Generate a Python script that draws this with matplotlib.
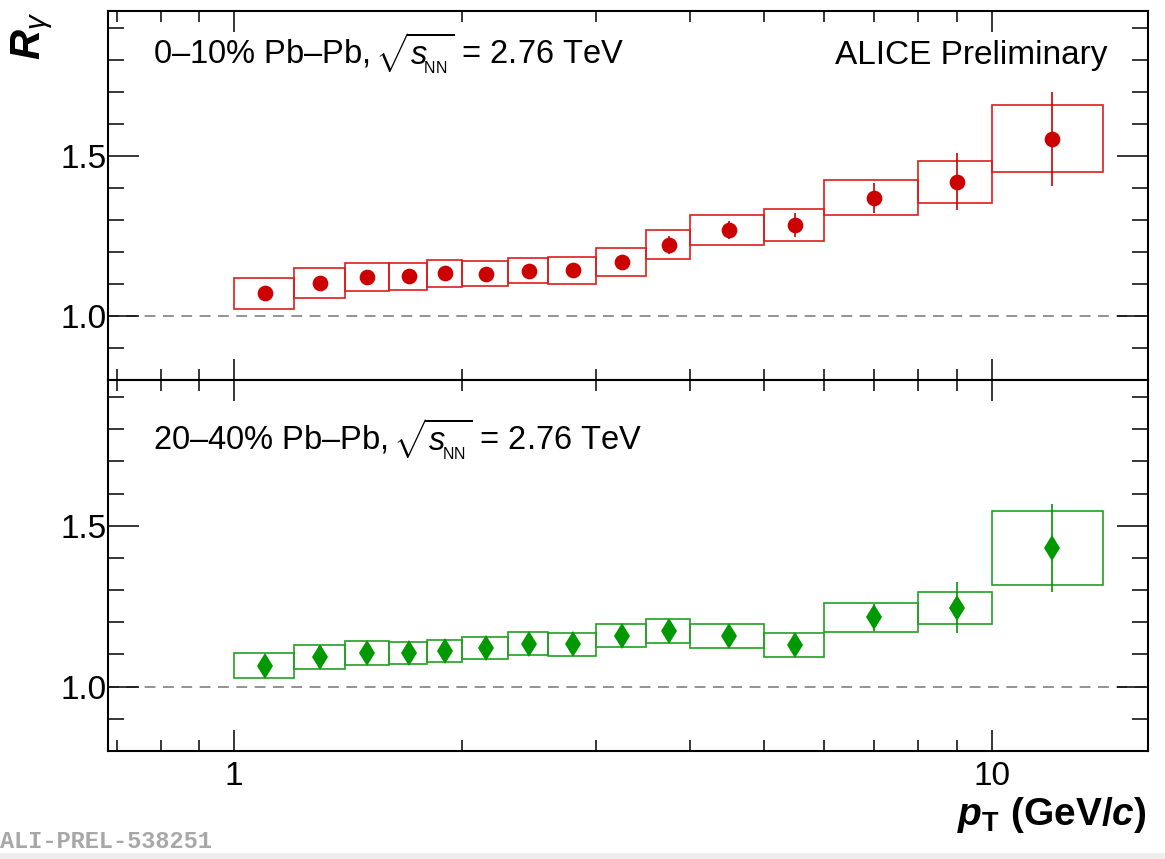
import numpy as np
import matplotlib
matplotlib.use('Agg')
import matplotlib.pyplot as plt
from matplotlib.patches import Rectangle
from matplotlib.ticker import MultipleLocator, FixedLocator, FuncFormatter, NullFormatter

plt.rcParams['font.family'] = ['Liberation Sans', 'DejaVu Sans']
plt.rcParams['mathtext.fontset'] = 'custom'
plt.rcParams['mathtext.rm'] = 'Liberation Sans'
plt.rcParams['mathtext.it'] = 'Liberation Sans:italic'
plt.rcParams['mathtext.bf'] = 'Liberation Sans:bold'
plt.rcParams['mathtext.bfit'] = 'Liberation Sans:bold:italic'

# pT bins (GeV/c)
bin_edges = [1.0, 1.2, 1.4, 1.6, 1.8, 2.0, 2.3, 2.6, 3.0, 3.5, 4.0, 5.0, 6.0, 8.0, 10.0, 14.0]

# 0-10% central
r_010 = [1.071, 1.104, 1.121, 1.1235, 1.133, 1.1325, 1.142, 1.1425, 1.1675, 1.223, 1.268, 1.284, 1.370, 1.420, 1.5535]
stat_010 = [0.010, 0.010, 0.010, 0.010, 0.010, 0.011, 0.012, 0.012, 0.015, 0.028, 0.028, 0.038, 0.047, 0.088, 0.146]
sys_010 = [0.048, 0.047, 0.044, 0.0425, 0.042, 0.040, 0.040, 0.0415, 0.0435, 0.045, 0.047, 0.050, 0.055, 0.0655, 0.1045]

# 20-40% semi-central
r_2040 = [1.065, 1.092, 1.105, 1.104, 1.111, 1.120, 1.134, 1.131, 1.158, 1.172, 1.1565, 1.1305, 1.215, 1.2453, 1.431]
stat_2040 = [0.010, 0.010, 0.010, 0.010, 0.010, 0.010, 0.010, 0.010, 0.015, 0.020, 0.020, 0.034, 0.043, 0.080, 0.137]
sys_2040 = [0.039, 0.037, 0.0365, 0.035, 0.035, 0.034, 0.035, 0.035, 0.036, 0.037, 0.0375, 0.0375, 0.044, 0.050, 0.116]

edges = np.array(bin_edges)
pt = 0.5 * (edges[:-1] + edges[1:])

W, H = 1165, 859
fig = plt.figure(figsize=(W / 100, H / 100), dpi=100)

x0, x1 = 108 / W, 1148 / W
ax_top = fig.add_axes([x0, 1 - 380 / H, x1 - x0, (380 - 11) / H])
ax_bot = fig.add_axes([x0, 1 - 751 / H, x1 - x0, (751 - 380) / H])


def style_axis(ax, show_xlabels):
    ax.set_xscale('log')
    ax.set_xlim(0.682, 16.07)
    ax.set_ylim(0.8, 1.953)
    ax.yaxis.set_major_locator(MultipleLocator(0.5))
    ax.yaxis.set_minor_locator(MultipleLocator(0.1))
    ax.yaxis.set_major_formatter(FuncFormatter(lambda v, _: '%.1f' % v))
    ax.xaxis.set_major_locator(FixedLocator([1, 10]))
    ax.xaxis.set_minor_locator(FixedLocator([0.7, 0.8, 0.9, 2, 3, 4, 5, 6, 7, 8, 9]))
    ax.xaxis.set_minor_formatter(NullFormatter())
    if show_xlabels:
        ax.xaxis.set_major_formatter(FuncFormatter(lambda v, _: '%g' % v))
    else:
        ax.xaxis.set_major_formatter(NullFormatter())
    ax.tick_params(axis='both', which='both', direction='in', top=True, right=True,
                   width=1.1, labelsize=24, colors='black')
    ax.tick_params(axis='y', which='major', length=22.5, pad=1)
    ax.tick_params(axis='y', which='minor', length=11.5)
    ax.tick_params(axis='x', which='major', length=15, pad=7)
    ax.tick_params(axis='x', which='minor', length=8)
    for s in ax.spines.values():
        s.set_linewidth(1.5)
    ax.axhline(1.0, color='#808080', lw=1.2, ls=(0, (6.5, 4.5)), zorder=1)


def draw_points(ax, vals, stat, sys, box_color, mk_color, marker, ms):
    for i in range(len(vals)):
        lo, hi = edges[i], edges[i + 1]
        ax.add_patch(Rectangle((lo, vals[i] - sys[i]), hi - lo, 2 * sys[i],
                               fill=False, edgecolor=box_color, lw=1.2, zorder=2))
    ax.errorbar(pt, vals, yerr=stat, fmt=marker, color=mk_color, ms=ms,
                elinewidth=1.2, capsize=0, mew=0, zorder=3)


style_axis(ax_top, False)
style_axis(ax_bot, True)

draw_points(ax_top, r_010, stat_010, sys_010, '#dd1c1c', '#cc0000', 'o', 11.3)
draw_points(ax_bot, r_2040, stat_2040, sys_2040, '#22a022', '#009900', 'd', 13)

sqrt_s = r'$\!\sqrt{s_{\!_{\rm NN}}}$'
ax_top.text(0.0433, 0.856, '0–10% Pb–Pb, ' + sqrt_s + ' = 2.76 TeV',
            transform=ax_top.transAxes, fontsize=23.5, va='baseline', ha='left')
ax_top.text(0.9606, 0.856, 'ALICE Preliminary',
            transform=ax_top.transAxes, fontsize=24, va='baseline', ha='right')
ax_bot.text(0.0433, 0.8086, '20–40% Pb–Pb, ' + sqrt_s + ' = 2.76 TeV',
            transform=ax_bot.transAxes, fontsize=23.5, va='baseline', ha='left')

# axis titles in ROOT style
fig.text(1147 / W, 1 - 825 / H, r'$\mathbfit{p}_{\mathbf{T}}$ (GeV/$\mathbfit{c}$)',
         fontsize=28, fontweight='bold', ha='right', va='baseline')
fig.text(32 / W, 1 - 12 / H, r'$\mathbfit{R}_{\gamma}$', fontsize=30,
         rotation=90, ha='center', va='top')

fig.text(0, 1 - 848 / H, 'ALI-PREL-538251', family='Liberation Mono',
         fontweight='bold', fontsize=17, color='#a8a8a8', ha='left', va='baseline')
fig.patches.append(Rectangle((0, 0), 1, 6 / H, transform=fig.transFigure,
                             facecolor='#eeeeee', edgecolor='none'))

fig.savefig('out.png', dpi=100)
